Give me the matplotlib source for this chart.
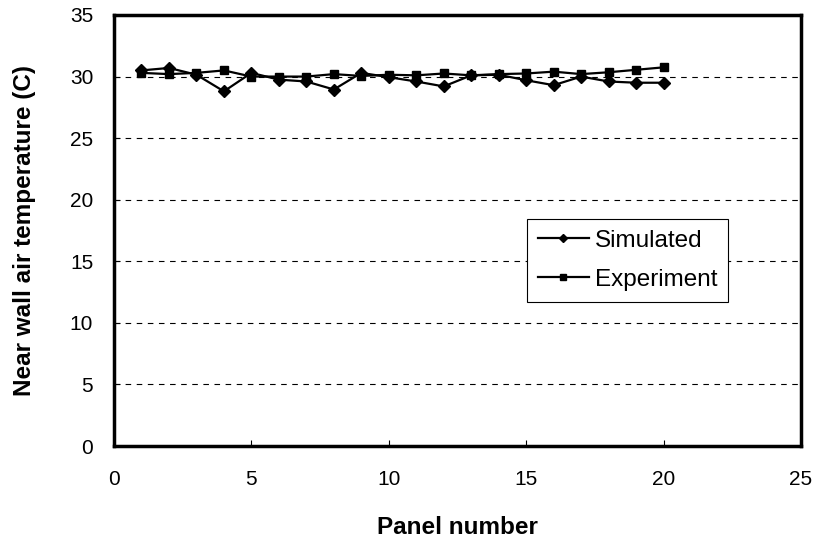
import numpy as np
import matplotlib.pyplot as plt

plt.rcParams['font.family'] = ['Liberation Sans', 'DejaVu Sans']

panels = list(range(1, 21))
simulated = [30.5, 30.7, 30.15, 28.8, 30.3, 29.75, 29.6, 28.95, 30.3, 29.95,
             29.6, 29.2, 30.1, 30.15, 29.7, 29.3, 30.0, 29.6, 29.5, 29.5]
experiment = [30.3, 30.2, 30.3, 30.5, 30.0, 30.0, 30.0, 30.2, 30.05, 30.15,
              30.1, 30.25, 30.1, 30.2, 30.25, 30.4, 30.2, 30.35, 30.55, 30.75]

fig = plt.figure(figsize=(8.19, 5.48), dpi=100)
ax = fig.add_axes([114 / 819, 1 - 446 / 548, 687 / 819, 431 / 548])

ax.plot(panels, simulated, color="black", lw=1.6, marker="D", markersize=6,
        label="Simulated")
ax.plot(panels, experiment, color="black", lw=1.6, marker="s", markersize=6,
        label="Experiment")

ax.set_xlim(0, 25)
ax.set_ylim(0, 35)
ax.set_xticks(np.arange(0, 26, 5))
ax.set_yticks(np.arange(0, 36, 5))
for y in range(5, 35, 5):
    ax.axhline(y, color="black", lw=0.8, ls=(0, (5, 5)), zorder=0)

for s in ax.spines.values():
    s.set_linewidth(2.5)
ax.tick_params(direction="in", length=4, width=0.8, labelsize=15)
ax.tick_params(axis="x", pad=17)
ax.tick_params(axis="y", pad=15)

ax.set_xlabel("Panel number", fontsize=17.5, fontweight="bold", labelpad=20)
ax.set_ylabel("Near wall air temperature (C)", fontsize=17.5, fontweight="bold",
              labelpad=24)

leg = ax.legend(loc="upper left", bbox_to_anchor=(0.601, 0.527), fontsize=17.5,
                fancybox=False, framealpha=1, edgecolor="black",
                handlelength=2.1, handletextpad=0.25, borderpad=0.45,
                labelspacing=0.7, markerscale=0.7, borderaxespad=0)
leg.get_frame().set_linewidth(0.8)

fig.savefig("out.png", dpi=100)
